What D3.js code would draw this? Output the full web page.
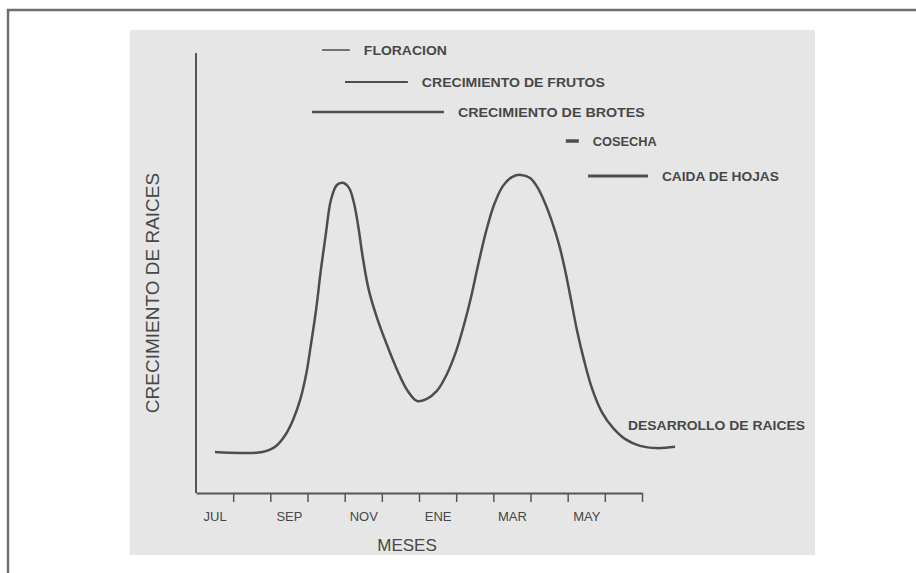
<!DOCTYPE html>
<html>
<head>
<meta charset="utf-8">
<script src="https://cdn.jsdelivr.net/npm/d3@7"></script>
<style>
  body { margin: 0; background: #fff; }
  svg { display: block; }
  text { font-family: "Liberation Sans", Arial, sans-serif; fill: #474747; }
</style>
</head>
<body>
<script>
var width = 916;
var height = 573;

// months, July to June (one band each)
var months = ["JUL", "AGO", "SEP", "OCT", "NOV", "DIC", "ENE", "FEB", "MAR", "ABR", "MAY", "JUN"];

// root growth curve: month position (0 = start of JUL) and relative growth
var growthMonth = [0.51, 1.18, 1.78, 2.13, 2.39, 2.61, 2.80, 2.96, 3.09, 3.23, 3.36, 3.50, 3.63, 3.79, 3.95, 4.12, 4.25, 4.36, 4.49, 4.65, 4.87, 5.14, 5.41, 5.68, 5.95, 6.21, 6.48, 6.75, 6.99, 7.21, 7.40, 7.59, 7.80, 8.02, 8.26, 8.50, 8.74, 8.99, 9.20, 9.39, 9.58, 9.77, 9.93, 10.09, 10.25, 10.44, 10.65, 10.92, 11.22, 11.54, 11.95, 12.40, 12.89];
var growthValue = [9.3, 9.1, 9.3, 10.5, 13.0, 16.6, 21.1, 26.8, 33.6, 41.6, 50.7, 59.3, 66.6, 70.0, 70.5, 69.3, 65.9, 60.9, 53.4, 46.1, 39.8, 33.6, 28.0, 23.4, 20.9, 21.4, 23.2, 27.0, 32.0, 38.2, 44.5, 51.8, 59.3, 65.5, 69.8, 71.8, 72.3, 71.6, 69.3, 65.9, 61.6, 56.4, 50.7, 43.9, 37.0, 30.2, 23.9, 18.4, 14.8, 12.3, 10.7, 10.2, 10.5];

// phenological phases (start / end in months from JUL)
var phaseNames = ["FLORACION", "CRECIMIENTO DE FRUTOS", "CRECIMIENTO DE BROTES", "COSECHA", "CAIDA DE HOJAS"];
var phaseStart = [3.39, 4.01, 3.12, 9.95, 10.55];
var phaseEnd = [4.14, 5.70, 6.67, 10.30, 12.16];

var svg = d3.select("body").append("svg").attr("width", width).attr("height", height);

// scanned page look
svg.append("rect").attr("x", 130).attr("y", 30).attr("width", 685).attr("height", 525).attr("fill", "#e6e6e6");
svg.append("path").attr("d", "M8,573V10H916").attr("fill", "none").attr("stroke", "#6e6e6e").attr("stroke-width", 2.5);

var x = d3.scaleLinear().domain([0, 12]).range([196, 642]);
var y = d3.scaleLinear().domain([0, 100]).range([493, 53]);

// y axis (plain line, no ticks)
svg.append("line").attr("x1", 196).attr("x2", 196).attr("y1", y(100)).attr("y2", y(0))
    .attr("stroke", "#555").attr("stroke-width", 2);

// x axis with ticks at month boundaries
var tickAxis = d3.axisBottom(x).tickValues(d3.range(1, 13)).tickSize(9).tickSizeOuter(0).tickFormat("");
var gx = svg.append("g").attr("transform", "translate(0," + y(0) + ")").call(tickAxis);
gx.select(".domain").attr("stroke", "#555").attr("stroke-width", 2);
gx.selectAll(".tick line").attr("stroke", "#555").attr("stroke-width", 1.5);

var labelAxis = d3.axisBottom(x).tickValues(d3.range(0, 12, 2).map(function (d) { return d + 0.5; }))
    .tickSize(0).tickPadding(19).tickFormat(function (d) { return months[Math.floor(d)]; });
var gl = svg.append("g").attr("transform", "translate(0," + y(0) + ")").call(labelAxis);
gl.select(".domain").remove();
gl.selectAll("text").attr("font-size", 13).attr("font-family", "Liberation Sans, Arial, sans-serif").attr("fill", "#474747");

// axis titles
svg.append("text").text("MESES").attr("x", 407).attr("y", 551).attr("text-anchor", "middle").attr("font-size", 17);
svg.append("text").text("CRECIMIENTO DE RAICES")
    .attr("transform", "translate(159,293) rotate(-90)").attr("text-anchor", "middle").attr("font-size", 19);

// growth curve
var line = d3.line()
    .x(function (d, i) { return x(growthMonth[i]); })
    .y(function (d) { return y(d); })
    .curve(d3.curveCatmullRom.alpha(0.5));
svg.append("path").attr("d", line(growthValue)).attr("fill", "none").attr("stroke", "#4d4d4d").attr("stroke-width", 2.5);

svg.append("text").text("DESARROLLO DE RAICES").attr("x", 628).attr("y", 430)
    .attr("font-size", 13).attr("font-weight", "bold").attr("textLength", 177).attr("lengthAdjust", "spacingAndGlyphs");

// phase bars
var rowY = [50, 82, 112, 141, 176];
var barW = [1.5, 2, 2.5, 3.5, 3];
var textW = [83, 183, 187, 64, 117];
phaseNames.forEach(function (name, i) {
    svg.append("line").attr("x1", x(phaseStart[i])).attr("x2", x(phaseEnd[i]))
        .attr("y1", rowY[i]).attr("y2", rowY[i]).attr("stroke", "#4d4d4d").attr("stroke-width", barW[i]);
    svg.append("text").text(name).attr("x", x(phaseEnd[i]) + 14).attr("y", rowY[i] + 4.5)
        .attr("font-size", 12.5).attr("font-weight", "bold")
        .attr("textLength", textW[i]).attr("lengthAdjust", "spacingAndGlyphs");
});
</script>
</body>
</html>
